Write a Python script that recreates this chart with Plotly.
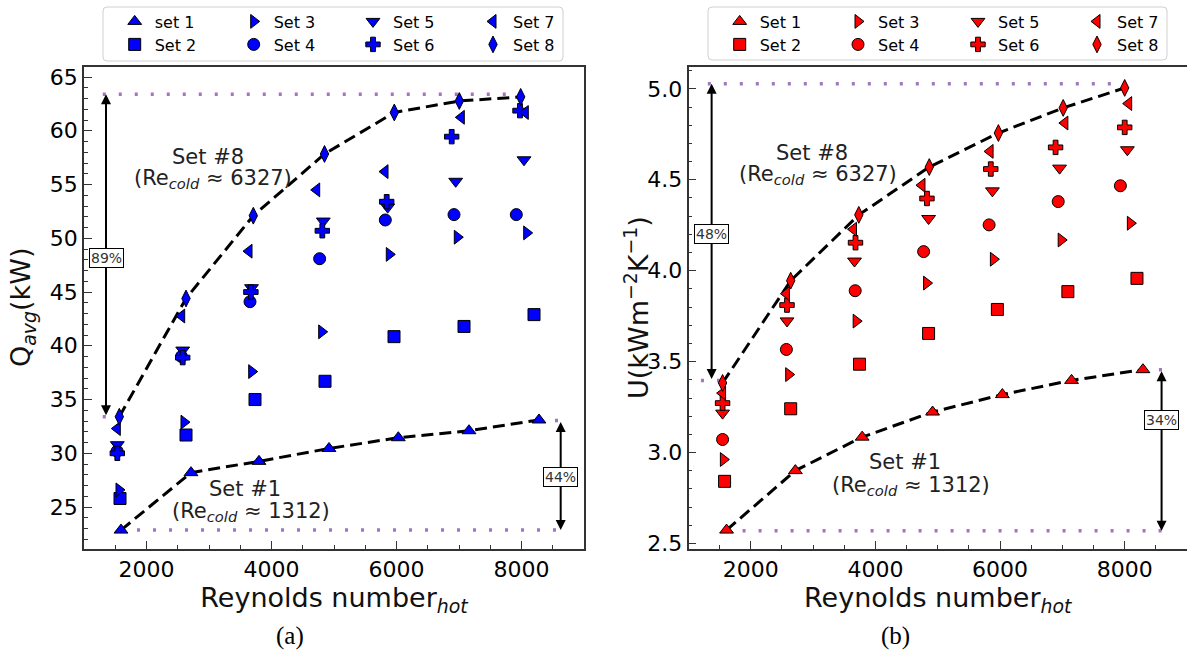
import plotly.graph_objects as go

# ---------------- data ----------------
set_names = ["set 1", "Set 2", "Set 3", "Set 4", "Set 5", "Set 6", "Set 7", "Set 8"]
set_names_b = ["Set 1", "Set 2", "Set 3", "Set 4", "Set 5", "Set 6", "Set 7", "Set 8"]
symbols = ["triangle-up", "square", "triangle-right", "circle",
           "triangle-down", "cross", "triangle-left", "diamond-tall"]

# (a) average heat transfer rate Q_avg (kW) vs Re_hot
qa_x = [
    [1592, 2712, 3800, 4920, 6029, 7160, 8280],
    [1576, 2632, 3736, 4856, 5960, 7080, 8200],
    [1560, 2600, 3683, 4803, 5885, 6973, 8083],
    [1530, 2560, 3656, 4770, 5821, 6920, 7917],
    [1533, 2579, 3680, 4829, 5859, 6947, 8040],
    [1533, 2579, 3670, 4813, 5843, 6883, 7976],
    [1533, 2563, 3640, 4723, 5816, 7037, 8061],
    [1565, 2632, 3709, 4848, 5965, 7005, 7987],
]
qa_y = [
    [22.86, 28.2, 29.25, 30.45, 31.45, 32.1, 33.1],
    [25.8, 31.7, 35.0, 36.7, 40.85, 41.8, 42.9],
    [26.6, 32.9, 37.6, 41.3, 48.5, 50.1, 50.5],
    [30.2, 39.0, 44.1, 48.1, 51.7, 52.2, 52.2],
    [30.8, 39.6, 45.4, 51.6, 52.9, 55.3, 57.3],
    [30.0, 38.9, 45.0, 50.7, 53.4, 59.45, 61.87],
    [32.3, 42.77, 48.8, 54.5, 56.2, 61.25, 61.7],
    [33.4, 44.4, 52.1, 57.84, 61.7, 62.77, 63.15],
]

# (b) overall heat transfer coefficient U vs Re_hot
ub_x = [
    [1611, 2715, 3787, 4917, 6037, 7147, 8293],
    [1579, 2640, 3744, 4853, 5957, 7088, 8197],
    [1560, 2608, 3691, 4821, 5893, 6981, 8091],
    [1547, 2571, 3675, 4773, 5824, 6933, 7931],
    [1547, 2581, 3664, 4853, 5877, 6955, 8043],
    [1547, 2581, 3680, 4827, 5851, 6891, 8000],
    [1547, 2571, 3648, 4747, 5840, 7040, 8064],
    [1547, 2640, 3733, 4864, 5973, 7013, 8000],
]
ub_y = [
    [2.574, 2.901, 3.085, 3.223, 3.319, 3.397, 3.456],
    [2.842, 3.241, 3.486, 3.655, 3.787, 3.885, 3.958],
    [2.962, 3.429, 3.723, 3.932, 4.063, 4.169, 4.261],
    [3.072, 3.567, 3.890, 4.105, 4.252, 4.380, 4.467],
    [3.217, 3.724, 4.053, 4.287, 4.439, 4.564, 4.665],
    [3.272, 3.811, 4.154, 4.397, 4.559, 4.678, 4.788],
    [3.327, 3.874, 4.228, 4.470, 4.656, 4.812, 4.919],
    [3.383, 3.945, 4.307, 4.570, 4.757, 4.895, 5.005],
]

# reference (dotted) levels and their x extents
qa_levels = [63.4, 22.86, 33.4, 33.05]
qa_level_x = [[1300, 7990], [1592, 8640], [1300, 1565], [8280, 8640]]
ub_levels = [5.028, 2.570, 3.397, 3.456]
ub_level_x = [[1310, 8000], [1611, 8620], [1200, 1547], [8293, 8620]]

# percentage increase arrows: x, y_from, y_to, label, label_y
qa_arrows = [(1352, 33.4, 63.4, "89%", 48.2), (8627, 33.05, 22.86, "44%", 27.8)]
ub_arrows = [(1371, 3.397, 5.028, "48%", 4.20), (8592, 3.456, 2.570, "34%", 3.18)]

# ---------------- figure ----------------
FONT = "DejaVu Sans"
W, H = 1187, 667
fig = go.Figure()

# legend slot for each set: (column, row); sets 1,3,5,7 top row, 2,4,6,8 bottom row
leg_col = [0, 0, 1, 1, 2, 2, 3, 3]
leg_row = [0, 1, 0, 1, 0, 1, 0, 1]

def add_panel(xs, ys, names, color, xa, ya, leg_offset, levels, level_x):
    for lv, lx in zip(levels, level_x):
        fig.add_trace(go.Scatter(x=lx, y=[lv, lv], mode="lines", xaxis=xa, yaxis=ya,
                                 line=dict(color="rgba(148,103,189,0.9)", width=3.5, dash="3px,13px"),
                                 showlegend=False, hoverinfo="skip"))
    for k in (0, 7):
        fig.add_trace(go.Scatter(x=xs[k], y=ys[k], mode="lines", xaxis=xa, yaxis=ya,
                                 line=dict(color="black", width=3, dash="12px,6px"),
                                 showlegend=False, hoverinfo="skip"))
    for i in range(8):
        lg = leg_offset + i
        fig.add_trace(go.Scatter(
            x=xs[i], y=ys[i], mode="markers", name=names[i], xaxis=xa, yaxis=ya,
            legend="legend" if lg == 1 else f"legend{lg}",
            marker=dict(symbol=symbols[i], color=color, size=12,
                        line=dict(color="black", width=1))))

add_panel(qa_x, qa_y, set_names, "#0000ff", "x", "y", 1, qa_levels, qa_level_x)
add_panel(ub_x, ub_y, set_names_b, "#ff0000", "x2", "y2", 9, ub_levels, ub_level_x)

annots = []
for xr, yr, arrows in (("x", "y", qa_arrows), ("x2", "y2", ub_arrows)):
    for ax_, y0, y1, lab, ly in arrows:
        annots.append(dict(x=ax_, y=y1, ax=ax_, ay=y0, xref=xr, yref=yr, axref=xr, ayref=yr,
                           text="", showarrow=True, arrowhead=2, arrowside="end+start",
                           arrowsize=1, arrowwidth=2, arrowcolor="black"))
        annots.append(dict(x=ax_, y=ly, xref=xr, yref=yr, text=lab, showarrow=False,
                           font=dict(family=FONT, size=14, color="#333"),
                           bgcolor="white", bordercolor="black", borderwidth=1, borderpad=1))

txt = dict(family=FONT, size=21, color="#222")
labels = [
    ("x", "y", 2979, 57.6, "Set #8"), ("x", "y", 3069, 55.5, "(Re<sub><i>cold</i></sub> ≈ 6327)"),
    ("x", "y", 3576, 26.7, "Set #1"), ("x", "y", 3667, 24.5, "(Re<sub><i>cold</i></sub> ≈ 1312)"),
    ("x2", "y2", 2987, 4.649, "Set #8"), ("x2", "y2", 3077, 4.524, "(Re<sub><i>cold</i></sub> ≈ 6327)"),
    ("x2", "y2", 4480, 2.947, "Set #1"), ("x2", "y2", 4568, 2.814, "(Re<sub><i>cold</i></sub> ≈ 1312)"),
]
for xr, yr, x, y, t in labels:
    annots.append(dict(x=x, y=y, xref=xr, yref=yr, text=t, showarrow=False, font=txt))

# panel captions
for x, t in ((290, "(a)"), (895, "(b)")):
    annots.append(dict(x=x / W, y=1 - 636 / H, xref="paper", yref="paper", text=t, showarrow=False,
                       xanchor="center", yanchor="middle",
                       font=dict(family="Liberation Serif", size=25, color="black")))

# y-axis titles (placed as rotated text next to the tick labels)
ttl = dict(family=FONT, size=27, color="#111")
for x, t in ((22, "Q<sub><i>avg</i></sub>(kW)"), (636, "U(kWm<sup>−2</sup>K<sup>−1</sup>)")):
    annots.append(dict(x=x / W, y=1 - 308 / H, xref="paper", yref="paper", text=t, showarrow=False,
                       xanchor="center", yanchor="middle", textangle=-90, font=ttl))

def axis_common():
    return dict(showline=True, mirror=True, linecolor="#333", linewidth=1.5, showgrid=False,
                zeroline=False, ticks="inside", ticklen=8, tickwidth=1.3, tickcolor="#333",
                automargin=False,
                tickfont=dict(family=FONT, size=22, color="black"))

xa = axis_common(); xa.update(range=[1000, 9000], tickvals=[2000, 4000, 6000, 8000],
                              minor=dict(dtick=500, tick0=0, ticks="inside", ticklen=4, tickcolor="#333"))
xt = dict(text="Reynolds number<sub><i>hot</i></sub>", font=ttl, standoff=0)

ya1 = axis_common(); ya1.update(range=[21.1, 65.93], dtick=5, tick0=0,
                                minor=dict(dtick=1, tick0=0, ticks="inside", ticklen=4, tickcolor="#333"))
ya2 = axis_common(); ya2.update(range=[2.47, 5.12], dtick=0.5, tick0=0, tickformat=".1f",
                                minor=dict(dtick=0.1, tick0=0, ticks="inside", ticklen=4, tickcolor="#333"))

ybot, ytop = 1 - 549 / H, 1 - 67 / H
layout = dict(
    width=W, height=H, margin=dict(l=0, r=0, t=0, b=0, autoexpand=False),
    paper_bgcolor="white", plot_bgcolor="white",
    xaxis=dict(xa, domain=[84 / W, 584 / W], anchor="y", title=xt),
    yaxis=dict(ya1, domain=[ybot, ytop], anchor="x"),
    xaxis2=dict(xa, domain=[688.5 / W, 1.0], anchor="y2", title=xt),
    yaxis2=dict(ya2, domain=[ybot, ytop], anchor="x2"),
    annotations=annots,
    showlegend=True,
)

# marker centre positions of legend columns in each panel (px)
col_px = [[126.7, 245.7, 365, 485], [731.7, 850, 970, 1089]]
row_py = [4.5, 27.5]
for p, off in ((0, 1), (1, 9)):
    for i in range(8):
        lg = off + i
        key = "legend" if lg == 1 else f"legend{lg}"
        layout[key] = dict(orientation="v", x=(col_px[p][leg_col[i]] - 12) / W,
                           y=1 - row_py[leg_row[i]] / H, xanchor="left", yanchor="top",
                           bgcolor="rgba(0,0,0,0)", borderwidth=0,
                           font=dict(family=FONT, size=16, color="black"), itemclick=False)

def rounded_rect(x0, y0, x1, y1, r=4):
    X = lambda v: v / W
    Y = lambda v: 1 - v / H
    return (f"M {X(x0 + r)},{Y(y0)} L {X(x1 - r)},{Y(y0)} Q {X(x1)},{Y(y0)} {X(x1)},{Y(y0 + r)} "
            f"L {X(x1)},{Y(y1 - r)} Q {X(x1)},{Y(y1)} {X(x1 - r)},{Y(y1)} "
            f"L {X(x0 + r)},{Y(y1)} Q {X(x0)},{Y(y1)} {X(x0)},{Y(y1 - r)} "
            f"L {X(x0)},{Y(y0 + r)} Q {X(x0)},{Y(y0)} {X(x0 + r)},{Y(y0)} Z")

layout["shapes"] = [
    dict(type="path", xref="paper", yref="paper", path=rounded_rect(103, 7, 563, 61),
         line=dict(color="#d0d0d0", width=1), fillcolor="rgba(255,255,255,0.8)", layer="below"),
    dict(type="path", xref="paper", yref="paper", path=rounded_rect(708, 7, 1167, 60),
         line=dict(color="#d0d0d0", width=1), fillcolor="rgba(255,255,255,0.8)", layer="below"),
]

fig.update_layout(layout)
fig.write_html("out.html")
